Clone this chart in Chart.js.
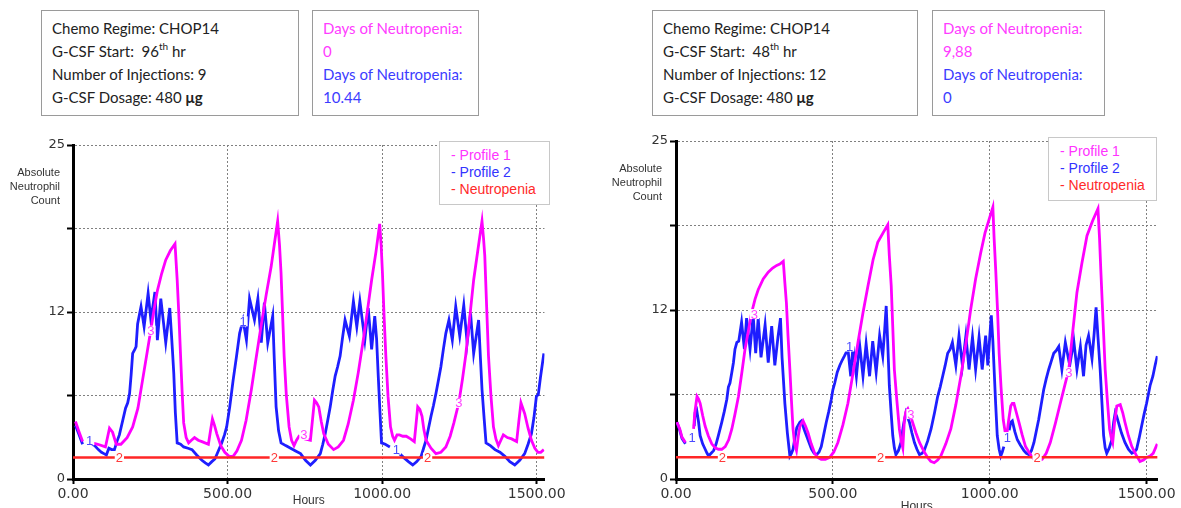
<!DOCTYPE html>
<html>
<head>
<meta charset="utf-8">
<script src="https://cdn.jsdelivr.net/npm/chart.js@4.4.1/dist/chart.umd.min.js"></script>
<style>
  body { margin: 0; width: 1181px; height: 508px; overflow: hidden; background: #fff; position: relative; }
  .info { position: absolute; top: 10px; height: 106px; box-sizing: border-box; border: 1px solid #9a9a9a;
          padding: 6px 0 0 10px; font-family: Lato, "Open Sans", sans-serif; font-size: 15px; line-height: 23px; color: #222; }
  .info sup { font-size: 10px; line-height: 0; position: relative; top: -1px; }
  .pink { color: #ff3cff; }
  .blue { color: #3c3cff; }
  .yTitle { position: absolute; width: 60px; text-align: right; font-family: "Liberation Sans", Arial, sans-serif;
            font-size: 11px; line-height: 14px; color: #333; }
  .legend { position: absolute; box-sizing: border-box; border: 1px solid #c8c8c8; background: #fff;
            padding: 5px 0 0 11px; font-family: "Liberation Sans", Arial, sans-serif; font-size: 14px; line-height: 17px; }
  canvas { position: absolute; }
</style>
</head>
<body>

<div class="info" style="left:41px;width:258px">
  Chemo Regime: CHOP14<br>
  G-CSF Start:&nbsp; 96<sup>th</sup> hr<br>
  Number of Injections: 9<br>
  G-CSF Dosage: 480 <b>μg</b>
</div>
<div class="info" style="left:312px;width:167px">
  <span class="pink">Days of Neutropenia:<br>0</span><br>
  <span class="blue">Days of Neutropenia:<br>10.44</span>
</div>

<div class="info" style="left:652px;width:266px">
  Chemo Regime: CHOP14<br>
  G-CSF Start:&nbsp; 48<sup>th</sup> hr<br>
  Number of Injections: 12<br>
  G-CSF Dosage: 480 <b>μg</b>
</div>
<div class="info" style="left:932px;width:173px">
  <span class="pink">Days of Neutropenia:<br>9,88</span><br>
  <span class="blue">Days of Neutropenia:<br>0</span>
</div>

<canvas id="chartLeft" width="548" height="373" style="left:20px;top:135px"></canvas>
<canvas id="chartRight" width="555" height="383" style="left:623px;top:131px"></canvas>

<div class="yTitle" style="left:0px;top:165px">Absolute<br>Neutrophil<br>Count</div>
<div class="yTitle" style="left:602px;top:161px">Absolute<br>Neutrophil<br>Count</div>

<div class="legend" style="left:439px;top:141px;width:111px;height:64px">
  <span style="color:#ff33ff">- Profile 1</span><br>
  <span style="color:#3333ff">- Profile 2</span><br>
  <span style="color:#ff2a2a">- Neutropenia</span>
</div>
<div class="legend" style="left:1048px;top:137px;width:109px;height:64px">
  <span style="color:#ff33ff">- Profile 1</span><br>
  <span style="color:#3333ff">- Profile 2</span><br>
  <span style="color:#ff2a2a">- Neutropenia</span>
</div>

<script>
// axis ticks
const hourTicks = [0, 500, 1000, 1500];
const ancTicks = [0, 6.25, 12.5, 18.75, 25];
const ancTickLabels = ["0", "", "12", "", "25"];
const neutropeniaLevel = 1.6;

// left chart: G-CSF start 96th hr, 9 injections
const leftP1 = [[8,4.3],[20,3.5],[31,2.8],[45,null],[62,2.7],[80,2.6],[105,2.4],[118,3.8],[128,3.5],[140,2.6],[155,2.6],[175,3.1],[193,3.9],[210,5.3],[225,7.4],[240,9.5],[252,11.2],[263,12.8],[273,14.1],[287,15.4],[300,16.4],[315,17.1],[330,17.6],[337,14.9],[343,12],[348,9.2],[353,6.5],[358,4.2],[366,3.1],[374,2.7],[383,2.9],[393,3.1],[405,2.9],[417,2.8],[438,2.6],[446,3.8],[451,4.5],[458,4.0],[465,3.4],[478,2.5],[491,2.0],[505,1.7],[518,1.7],[530,2.1],[545,2.9],[560,4.4],[577,6.7],[592,9.0],[608,11.4],[625,13.8],[641,15.9],[652,17.7],[662,19.3],[668,17.5],[673,15.4],[678,12.3],[683,9.2],[690,6.3],[699,3.9],[707,2.9],[715,2.5],[723,2.9],[731,3.2],[750,3.0],[768,2.9],[775,4.5],[781,5.9],[788,5.7],[795,5.4],[803,4.3],[811,3.4],[826,2.6],[843,2.2],[858,2.4],[875,2.9],[890,4.1],[907,5.9],[923,8.0],[939,10.4],[953,12.7],[966,14.9],[980,17.0],[992,19.1],[997,17.4],[1001,15.4],[1006,12.3],[1012,9.2],[1019,6.2],[1027,3.9],[1034,3.2],[1040,2.9],[1048,3.3],[1056,3.3],[1067,3.2],[1078,3.2],[1092,3.0],[1104,2.8],[1110,4.2],[1115,5.4],[1122,5.2],[1129,4.7],[1135,3.7],[1142,2.9],[1158,2.3],[1174,1.9],[1190,2.0],[1206,2.4],[1220,3.2],[1232,4.2],[1248,5.7],[1260,7.5],[1270,9.2],[1283,12.0],[1296,14.9],[1310,17.2],[1323,19.3],[1328,18.0],[1332,16.7],[1338,12.9],[1344,9.2],[1352,6.2],[1360,3.9],[1368,3.0],[1376,2.5],[1384,2.9],[1392,3.3],[1405,3.1],[1419,3.0],[1435,2.8],[1442,4.3],[1449,5.7],[1455,5.3],[1461,4.9],[1472,3.8],[1483,2.9],[1494,2.3],[1504,2.0],[1513,2.0],[1523,2.2]];
const leftP2 = [[8,4.0],[20,3.3],[31,2.6],[45,null],[62,2.6],[70,2.5],[82,2.2],[92,2.0],[100,1.9],[108,1.8],[116,2.3],[125,2.2],[134,2.2],[142,2.8],[150,3.3],[161,4.4],[170,5.3],[177,5.7],[183,6.4],[188,7.8],[193,9.4],[200,9.7],[204,9.9],[209,11.6],[220,12.9],[230,11.4],[243,13.9],[252,11.9],[265,14.0],[273,10.4],[284,13.5],[300,10.2],[313,12.8],[318,11.0],[322,9.5],[326,7.9],[331,5.0],[337,2.7],[348,2.6],[358,2.4],[372,2.3],[385,2.2],[400,1.8],[417,1.4],[428,1.2],[438,1.05],[449,1.3],[459,1.5],[470,2.1],[481,2.7],[490,3.3],[497,3.9],[507,5.4],[518,7.4],[529,9.2],[539,10.9],[550,11.9],[561,10.4],[571,13.5],[587,11.9],[598,13.5],[609,10.2],[619,13.2],[630,10.2],[646,12.2],[651,9.0],[657,5.4],[665,3.6],[673,2.7],[688,2.5],[704,2.3],[720,2.1],[736,1.9],[752,1.4],[768,1.05],[784,1.4],[800,1.9],[808,2.6],[816,3.4],[824,4.4],[832,5.4],[840,6.6],[848,7.7],[856,8.4],[864,9.2],[872,10.6],[880,11.9],[894,10.7],[907,13.3],[918,11.4],[928,13.3],[944,10.4],[955,12.8],[966,9.7],[976,12.2],[982,10.5],[987,7.9],[993,5.0],[998,2.7],[1010,2.6],[1025,2.4],[1040,null],[1056,1.9],[1070,1.6],[1085,1.3],[1099,1.05],[1112,1.3],[1126,1.7],[1134,2.3],[1142,2.9],[1150,3.8],[1158,4.7],[1166,5.5],[1174,6.4],[1182,7.4],[1190,8.4],[1198,9.7],[1206,10.9],[1216,11.9],[1227,10.4],[1238,12.9],[1251,10.7],[1264,13.0],[1275,10.2],[1286,12.4],[1296,9.4],[1312,11.9],[1318,9.0],[1323,6.7],[1330,4.5],[1336,2.7],[1350,2.5],[1365,2.2],[1381,2.0],[1397,1.7],[1413,1.3],[1429,1.05],[1445,1.4],[1461,1.9],[1472,2.6],[1483,3.4],[1491,4.6],[1499,6.2],[1505,6.3],[1512,7.6],[1523,9.4]];
const leftTags = [[54,2.9,"1"],[550,11.8,"1"],[1046,2.2,"1"],[150,1.6,"2"],[651,1.6,"2"],[1147,1.6,"2"],[252,11.1,"3"],[747,3.3,"3"],[1248,5.7,"3"]];

// right chart: G-CSF start 48th hr, 12 injections
const rightP1 = [[3,4.2],[12,3.7],[19,3.1],[30,2.7],[42,null],[56,3.7],[60,4.9],[64,5.6],[67,6.1],[72,5.9],[77,5.6],[85,4.7],[93,3.9],[103,3.2],[114,2.6],[125,2.3],[135,2.2],[146,2.2],[157,2.4],[168,2.9],[178,3.7],[188,4.8],[199,6.1],[210,7.9],[220,9.6],[231,11.0],[241,12.3],[252,13.3],[262,14.0],[278,14.8],[294,15.3],[308,15.6],[321,15.8],[331,15.9],[342,16.1],[347,14.5],[352,13.0],[357,10.6],[363,8.1],[368,5.8],[373,3.7],[378,2.6],[384,2.1],[390,3.2],[395,3.9],[405,4.3],[413,3.9],[421,3.4],[431,2.6],[442,1.9],[452,1.6],[463,1.45],[476,1.45],[490,1.6],[503,2.0],[516,2.7],[532,4.0],[548,5.6],[564,7.8],[580,10.1],[596,12.3],[612,14.3],[628,16.2],[643,17.5],[660,18.2],[675,18.8],[680,16.5],[686,14.3],[691,11.2],[696,8.1],[704,5.8],[712,3.7],[718,2.8],[723,2.3],[728,4.4],[733,5.0],[739,5.2],[746,4.8],[754,4.2],[765,3.4],[776,2.7],[789,2.1],[802,1.6],[812,1.3],[823,1.2],[834,1.4],[844,1.7],[860,2.6],[876,3.7],[892,5.5],[908,7.6],[924,10.0],[939,12.5],[955,14.8],[971,16.7],[985,18.2],[998,19.2],[1010,20.1],[1014,17.8],[1019,15.5],[1025,12.4],[1030,9.3],[1036,6.8],[1043,4.4],[1049,3.5],[1054,3.2],[1060,4.3],[1067,5.4],[1072,5.6],[1077,5.6],[1085,4.9],[1093,4.2],[1103,3.3],[1114,2.4],[1127,1.9],[1141,1.45],[1154,1.35],[1167,1.45],[1180,1.9],[1193,2.7],[1209,4.1],[1225,5.6],[1240,7.0],[1252,8.1],[1265,11.0],[1278,13.8],[1294,16.0],[1310,18.0],[1328,19.1],[1345,20.0],[1350,17.8],[1354,15.5],[1361,11.8],[1368,8.1],[1375,5.8],[1382,3.7],[1387,3.1],[1392,2.7],[1398,4.2],[1405,5.4],[1416,5.5],[1424,4.9],[1431,4.2],[1442,3.2],[1453,2.4],[1466,1.8],[1479,1.3],[1490,1.4],[1500,1.6],[1511,1.7],[1521,1.9],[1534,2.6]];
const rightP2 = [[3,4.2],[12,3.6],[19,3.0],[30,2.6],[42,null],[58,3.9],[61,4.9],[66,5.1],[72,4.2],[77,3.2],[85,2.6],[93,2.2],[99,1.9],[104,1.7],[112,1.9],[120,2.1],[128,2.6],[135,3.2],[146,4.2],[154,5.0],[162,5.9],[167,6.8],[172,7.1],[178,7.9],[183,8.6],[188,9.6],[194,10.1],[200,10.2],[209,11.6],[218,9.6],[225,11.9],[236,9.6],[246,12.1],[254,9.3],[262,11.9],[271,9.0],[284,11.4],[294,8.6],[305,11.3],[315,8.4],[325,10.5],[333,11.9],[338,9.0],[342,7.5],[347,5.6],[355,3.4],[363,1.7],[368,1.9],[373,2.2],[378,2.9],[385,3.8],[395,4.2],[400,4.3],[408,3.7],[416,3.2],[424,2.7],[432,2.2],[440,1.9],[448,1.8],[456,2.0],[463,2.4],[471,3.3],[479,4.2],[487,5.0],[495,5.9],[500,6.6],[506,7.1],[514,7.9],[522,8.4],[530,8.8],[537,9.1],[548,9.6],[557,7.6],[564,9.8],[575,7.6],[585,10.0],[596,7.6],[606,10.0],[617,7.6],[627,10.2],[638,7.9],[649,10.6],[659,9.1],[665,11.0],[670,12.8],[675,10.0],[680,6.9],[686,4.8],[691,3.2],[696,2.3],[701,1.8],[709,2.1],[717,2.7],[725,4.0],[733,4.9],[739,4.5],[744,4.2],[752,3.4],[760,2.7],[768,2.2],[776,1.8],[784,1.9],[791,2.1],[802,2.8],[813,3.7],[824,4.9],[834,6.1],[842,6.8],[850,7.6],[858,8.4],[866,9.3],[874,9.6],[881,10.1],[892,8.4],[902,10.6],[913,8.4],[924,10.6],[934,8.1],[945,10.5],[955,8.1],[966,10.5],[976,8.1],[987,10.6],[994,8.4],[1000,10.5],[1005,12.1],[1010,10.2],[1014,8.1],[1019,5.5],[1024,3.2],[1030,2.2],[1035,1.7],[1040,2.0],[1045,2.4],[1052,null],[1062,3.6],[1067,4.2],[1072,4.3],[1080,3.5],[1088,2.9],[1098,2.5],[1109,2.1],[1117,1.9],[1125,1.8],[1133,2.1],[1141,2.7],[1148,3.5],[1156,4.4],[1164,5.5],[1172,6.6],[1180,7.4],[1188,8.1],[1196,8.7],[1204,9.3],[1212,9.5],[1220,9.8],[1230,8.1],[1241,10.1],[1255,8.4],[1268,10.2],[1278,8.1],[1289,9.8],[1299,7.6],[1307,9.9],[1315,10.6],[1326,8.9],[1333,10.8],[1339,12.7],[1345,10.5],[1352,8.1],[1358,5.5],[1363,3.2],[1368,2.3],[1373,1.9],[1381,2.3],[1389,2.9],[1395,4.2],[1400,4.9],[1405,4.6],[1410,4.2],[1420,3.4],[1431,2.7],[1442,2.2],[1453,1.9],[1461,2.0],[1468,2.2],[1476,3.0],[1484,3.9],[1492,4.8],[1500,5.6],[1506,6.3],[1511,6.9],[1520,7.6],[1527,8.4],[1534,9.1]];
const rightTags = [[51,3.1,"1"],[553,9.8,"1"],[1056,3.1,"1"],[148,1.6,"2"],[652,1.6,"2"],[1151,1.6,"2"],[250,12.2,"3"],[749,4.8,"3"],[1252,7.9,"3"]];

const lineColors = { p1: "#ff00ff", p2: "#1e1eff", neutro: "#ff2626" };
const tagColors = { "1": "#4a4aff", "2": "#ff3a3a", "3": "#ff40ff" };

// small numbers written on the curves (1, 2, 3)
const curveTags = {
  id: "curveTags",
  afterDatasetsDraw(chart, args, opts) {
    const { ctx, scales } = chart;
    ctx.save();
    ctx.font = "13px 'Liberation Sans', Arial, sans-serif";
    ctx.textAlign = "center";
    ctx.textBaseline = "middle";
    opts.tags.forEach(([h, v, t]) => {
      const px = scales.x.getPixelForValue(h);
      const py = scales.y.getPixelForValue(v);
      const w = ctx.measureText(t).width + 2;
      ctx.fillStyle = "#fff";
      ctx.fillRect(px - w / 2, py - 5, w, 10);
      ctx.fillStyle = tagColors[t];
      ctx.fillText(t, px, py + 1);
    });
    ctx.restore();
  },
};

const toPoints = (arr) => arr.map(([h, v]) => ({ x: h, y: v }));

function drawChart(id, p1, p2, tags, xMax, xAxisHeight) {
  const ctx = document.getElementById(id).getContext("2d");
  return new Chart(ctx, {
    type: "line",
    data: {
      datasets: [
        {
          label: "Neutropenia",
          data: toPoints([[0, neutropeniaLevel], [xMax, neutropeniaLevel]]),
          borderColor: lineColors.neutro,
          borderWidth: 2.5,
        },
        {
          label: "Profile 1",
          data: toPoints(p1),
          borderColor: lineColors.p1,
          borderWidth: 2.8,
        },
        {
          label: "Profile 2",
          data: toPoints(p2),
          borderColor: lineColors.p2,
          borderWidth: 2.8,
        },
      ],
    },
    options: {
      responsive: false,
      animation: false,
      events: [],
      devicePixelRatio: 1,
      layout: { padding: { top: 10, right: 20, left: 0, bottom: 0 } },
      elements: { point: { radius: 0 }, line: { tension: 0 } },
      spanGaps: false,
      scales: {
        x: {
          type: "linear",
          min: 0,
          max: xMax,
          afterBuildTicks: (s) => { s.ticks = hourTicks.map((v) => ({ value: v })); },
          afterFit: (s) => { s.height = xAxisHeight; },
          ticks: {
            callback: (v) => v.toFixed(2),
            color: "#333",
            font: { family: "'DejaVu Sans'", size: 14 },
            padding: 2,
            maxRotation: 0,
            autoSkip: false,
          },
          grid: { color: "#808080", lineWidth: 1, tickLength: 5, tickColor: "#000", tickWidth: 2 },
          border: { display: true, color: "#000", width: 3, dash: [2, 2] },
          title: {
            display: true,
            text: "Hours",
            color: "#333",
            font: { family: "'Liberation Sans'", size: 12 },
            padding: 0,
          },
        },
        y: {
          min: 0,
          max: 25,
          afterBuildTicks: (s) => { s.ticks = ancTicks.map((v) => ({ value: v })); },
          afterFit: (s) => { s.width = 53; },
          ticks: {
            callback: (v, i) => ancTickLabels[i],
            color: "#333",
            font: { family: "'DejaVu Sans'", size: 13 },
            padding: 2,
          },
          grid: { color: "#808080", lineWidth: 1, tickLength: 6, tickColor: "#000", tickWidth: 2 },
          border: { display: true, color: "#000", width: 3, dash: [2, 2] },
        },
      },
      plugins: {
        legend: { display: false },
        tooltip: { enabled: false },
        curveTags: { tags: tags },
      },
    },
    plugins: [curveTags],
  });
}

drawChart("chartLeft", leftP1, leftP2, leftTags, 1525, 29);
drawChart("chartRight", rightP1, rightP2, rightTags, 1535, 35);
</script>
</body>
</html>
